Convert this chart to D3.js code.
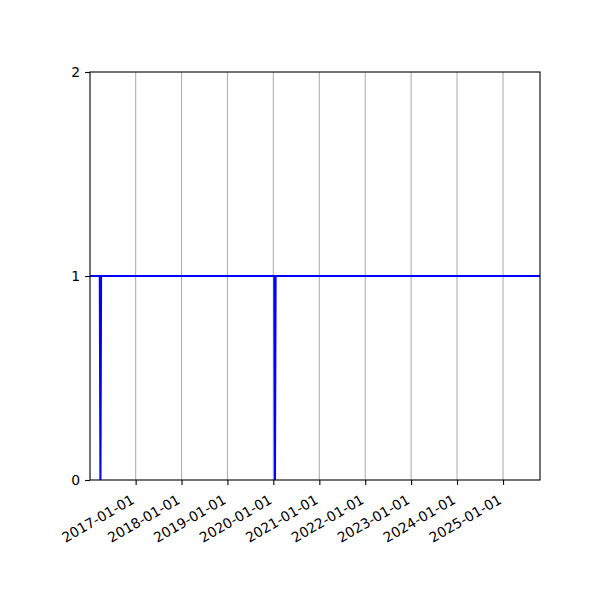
<!DOCTYPE html>
<html>
<head>
<meta charset="utf-8">
<script src="https://cdn.jsdelivr.net/npm/d3@7"></script>
<style>
  body { margin: 0; background: #fff; }
  svg { display: block; }
</style>
</head>
<body>
<div id="chart"></div>
<script>
// series: value is 1 everywhere except two short dips to 0
const dates = ["2015-12-01", "2016-03-22", "2016-03-27", "2016-04-01",
  "2020-01-09", "2020-01-14", "2020-01-19", "2025-12-31"];
const values = [1, 1, 0, 1, 1, 0, 1, 1];

const xDomain = ["2016-01-04", "2025-10-22"];
const xTicks = ["2017-01-01", "2018-01-01", "2019-01-01", "2020-01-01", "2021-01-01",
  "2022-01-01", "2023-01-01", "2024-01-01", "2025-01-01"];
const yTicks = [0, 1, 2];

const width = 600, height = 600;
const margin = { top: 72, right: 60, bottom: 120, left: 90 };
const font = "DejaVu Sans, sans-serif";
const parse = d3.utcParse("%Y-%m-%d");
const fmt = d3.utcFormat("%Y-%m-%d");

const svg = d3.select("#chart").append("svg")
  .attr("width", width)
  .attr("height", height);

const x = d3.scaleUtc()
  .domain(xDomain.map(parse))
  .range([margin.left, width - margin.right]);
const y = d3.scaleLinear()
  .domain([0, 2])
  .range([height - margin.bottom, margin.top]);

const tickDates = xTicks.map(parse);

// vertical grid
svg.append("g")
  .selectAll("line")
  .data(tickDates)
  .join("line")
  .attr("x1", d => x(d)).attr("x2", d => x(d))
  .attr("y1", y(0)).attr("y2", y(2))
  .attr("stroke", "#b0b0b0")
  .attr("stroke-width", 1.1);

svg.append("defs").append("clipPath").attr("id", "clip")
  .append("rect")
  .attr("x", margin.left).attr("y", margin.top)
  .attr("width", width - margin.left - margin.right)
  .attr("height", height - margin.top - margin.bottom);

const data = dates.map((d, i) => ({ date: parse(d), value: values[i] }));
svg.append("path")
  .datum(data)
  .attr("clip-path", "url(#clip)")
  .attr("fill", "none")
  .attr("stroke", "#0000ff")
  .attr("stroke-width", 2.1)
  .attr("d", d3.line().x(d => x(d.date)).y(d => y(d.value)));

// x axis
const xAxis = svg.append("g")
  .attr("transform", `translate(0,${y(0)})`)
  .call(d3.axisBottom(x).tickValues(tickDates).tickFormat(fmt).tickSize(4.9).tickPadding(4));
xAxis.attr("font-family", font).attr("font-size", 13.9);
xAxis.select(".domain").remove();
xAxis.selectAll(".tick line").attr("stroke", "#000").attr("stroke-width", 1.1);
xAxis.selectAll(".tick text")
  .attr("fill", "#000")
  .attr("text-anchor", "end")
  .attr("x", -6)
  .attr("y", 13.5)
  .attr("dy", "0.75em")
  .attr("transform", "rotate(-30,-6,13.5)");

// y axis
const yAxis = svg.append("g")
  .attr("transform", `translate(${margin.left},0)`)
  .call(d3.axisLeft(y).tickValues(yTicks).tickFormat(d3.format("d")).tickSize(4.9).tickPadding(4.9));
yAxis.attr("font-family", font).attr("font-size", 13.9);
yAxis.select(".domain").remove();
yAxis.selectAll(".tick line").attr("stroke", "#000").attr("stroke-width", 1.1);
yAxis.selectAll(".tick text").attr("fill", "#000");

// frame
svg.append("rect")
  .attr("x", margin.left).attr("y", margin.top)
  .attr("width", width - margin.left - margin.right)
  .attr("height", height - margin.top - margin.bottom)
  .attr("fill", "none")
  .attr("stroke", "#000")
  .attr("stroke-width", 1.1);
</script>
</body>
</html>
